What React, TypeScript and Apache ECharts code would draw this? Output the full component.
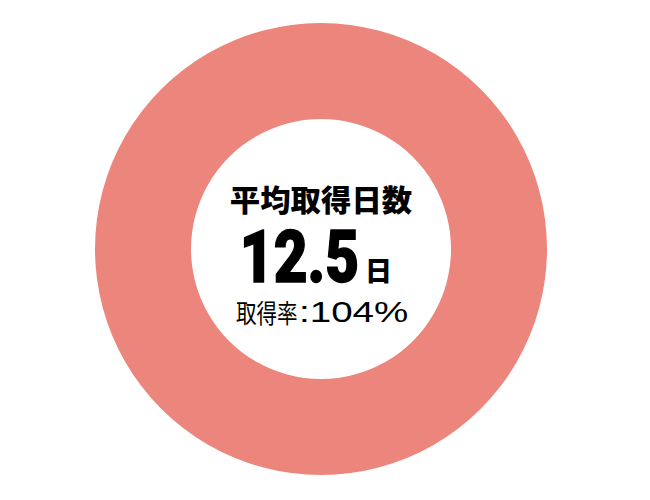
import React, { useEffect, useRef } from 'react';
import * as echarts from 'echarts';

// 取得率のリング（1本だけ）
const ringNames = ['取得率'];
const ringValues = [104];
const ringColors = ['#EC857B'];

// 中央のテキスト
const titleLines = ['平均取得日数'];
const avgDays = [12.5];
const dayUnit = ['日'];
const rateLabels = ['取得率'];
const rateValues = [104];

const JP_FONT = '"Noto Sans CJK JP", "Noto Sans", sans-serif';

const App: React.FC = () => {
  const chartRef = useRef<HTMLDivElement>(null);

  useEffect(() => {
    if (!chartRef.current) return;
    const chart = echarts.init(chartRef.current, undefined, { renderer: 'svg' });

    const option = {
      animation: false,
      series: [
        {
          type: 'pie',
          center: [321, 249],
          radius: [130, 226],
          silent: true,
          label: { show: false },
          labelLine: { show: false },
          data: ringNames.map((name, i) => ({
            name,
            value: ringValues[i],
            itemStyle: { color: ringColors[i] },
          })),
        },
      ],
      graphic: [
        {
          type: 'text',
          x: 321,
          y: 198,
          scaleX: 1.03,
          style: {
            text: titleLines[0],
            textAlign: 'center',
            textVerticalAlign: 'middle',
            font: `900 29.5px ${JP_FONT}`,
            fill: '#000',
          },
        },
        {
          type: 'text',
          x: 359,
          y: 257,
          scaleX: 0.8,
          style: {
            text: String(avgDays[0]),
            textAlign: 'right',
            textVerticalAlign: 'middle',
            font: '900 73px Roboto, sans-serif',
            fill: '#000',
            stroke: '#000',
            lineWidth: 1.5,
          },
        },
        {
          type: 'text',
          x: 365,
          y: 269,
          style: {
            text: dayUnit[0],
            textAlign: 'left',
            textVerticalAlign: 'middle',
            font: `900 27px ${JP_FONT}`,
            fill: '#000',
          },
        },
        {
          type: 'text',
          x: 236,
          y: 312,
          scaleX: 0.79,
          style: {
            text: rateLabels[0],
            textAlign: 'left',
            textVerticalAlign: 'middle',
            font: `26px ${JP_FONT}`,
            fill: '#000',
          },
        },
        {
          type: 'text',
          x: 299,
          y: 312,
          scaleX: 1.33,
          style: {
            text: `:${rateValues[0]}%`,
            textAlign: 'left',
            textVerticalAlign: 'middle',
            font: '29px "Liberation Sans", sans-serif',
            fill: '#000',
          },
        },
      ],
    };

    chart.setOption(option);

    return () => {
      chart.dispose();
    };
  }, []);

  return (
    <div
      ref={chartRef}
      style={{ position: 'fixed', left: 0, top: 0, width: '650px', height: '500px', background: '#fff' }}
    />
  );
};

export default App;
